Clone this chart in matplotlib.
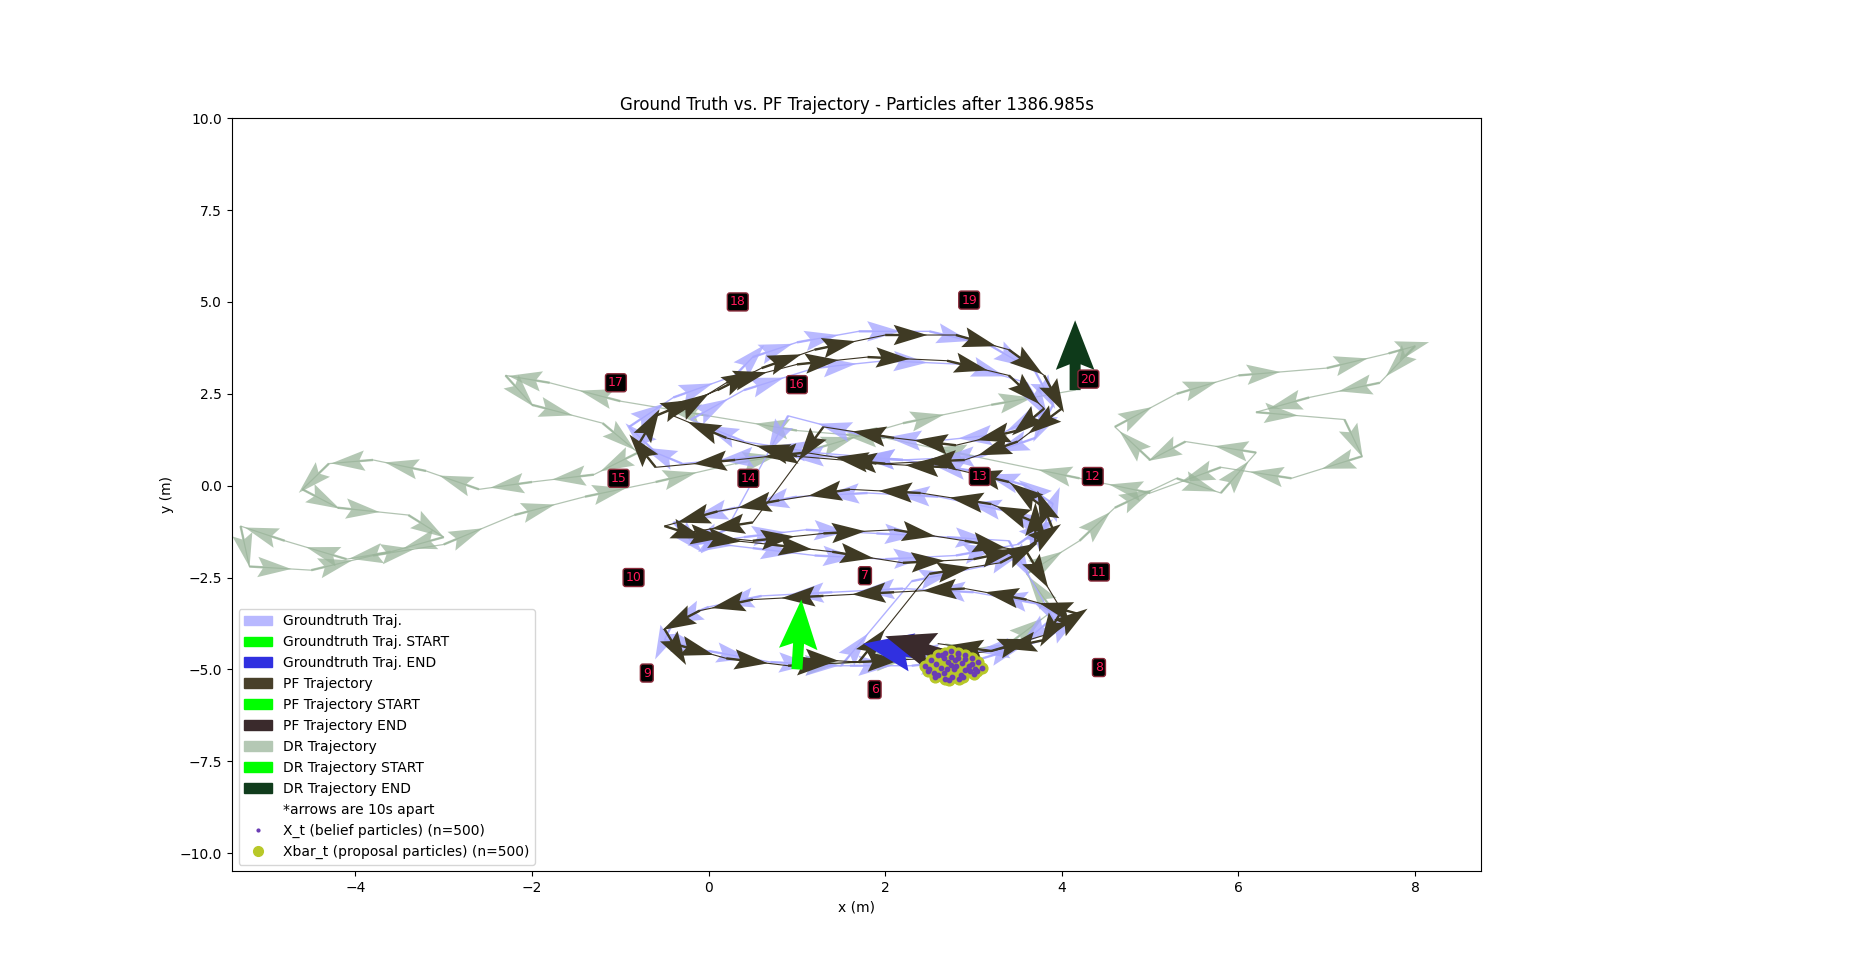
import numpy as np
import matplotlib
matplotlib.use("Agg")
import matplotlib.pyplot as plt
from matplotlib.patches import Patch
from matplotlib.lines import Line2D

# ---- data ----
gt_x = [1.0,1.6,2.3,3.1,3.8,4.1,3.7,3.0,2.2,1.4,0.6,0.0,-0.4,-0.5,0.0,0.7,1.5,2.3,3.1,3.6,3.8,3.4,2.6,1.8,1.0,0.3,-0.4,-0.2,0.5,1.2,2.0,2.8,3.5,3.8,3.9,3.6,3.0,2.2,1.4,0.6,-0.3,-0.6,-0.9,-0.4,0.3,0.5,1.0,1.7,2.5,3.2,3.7,3.9,3.7,3.1,2.2,1.2,0.4,-0.2,0.4,1.2,2.0,2.9,3.6,3.8,3.3,2.5,1.7,0.9,0.2,-0.2,0.4,1.1,1.9,2.7,3.4,3.9,3.5,2.7,2.1]
gt_y = [-4.9,-4.9,-4.9,-4.7,-4.2,-3.7,-3.2,-2.9,-2.8,-2.9,-3.0,-3.3,-3.7,-4.2,-4.5,-4.8,-4.9,-2.6,-2.2,-1.8,-1.2,-0.7,-0.3,-0.2,-0.3,-0.6,-1.0,-1.5,-1.7,-1.9,-2.0,-1.9,-1.6,-1.1,-0.5,0.0,0.4,0.7,0.8,0.8,0.6,0.9,1.6,2.4,3.0,3.5,3.9,4.2,4.2,3.8,3.1,2.2,1.3,0.8,0.7,0.9,1.2,1.8,2.6,3.2,3.4,3.3,2.8,2.0,1.4,1.2,1.4,1.9,-1.2,-1.6,-1.4,-1.2,-1.3,-1.4,-1.5,-3.6,-4.4,-4.6,-4.5]

pf_x = [1.0,1.7,2.5,3.2,3.9,4.2,3.6,2.9,2.1,1.3,0.5,-0.1,-0.5,-0.4,0.2,0.9,1.7,2.5,3.3,3.7,3.7,3.2,2.4,1.6,0.8,0.1,-0.5,-0.1,0.7,1.4,2.2,3.0,3.6,3.9,3.8,3.4,2.7,1.9,1.1,0.3,-0.6,-0.8,-0.6,0.1,0.6,1.2,2.0,2.8,3.4,3.8,4.0,3.5,2.9,2.0,1.0,0.2,-0.4,0.2,1.0,1.8,2.7,3.4,3.8,3.5,2.8,2.1,1.3,0.5,-0.3,0.5,1.3,2.1,2.9,3.6,4.0,3.8,3.2,2.6]
pf_y = [-4.7,-4.8,-4.7,-4.5,-4.0,-3.5,-3.1,-2.8,-2.9,-3.0,-3.1,-3.4,-3.9,-4.3,-4.7,-4.9,-4.8,-2.4,-2.1,-1.6,-1.0,-0.5,-0.2,-0.1,-0.4,-0.7,-1.1,-1.4,-1.6,-1.8,-2.1,-2.0,-1.7,-1.2,-0.6,0.1,0.5,0.6,0.9,0.7,0.5,1.1,1.9,2.6,3.2,3.7,4.1,4.1,3.7,3.0,2.1,1.2,0.7,0.6,0.8,1.3,1.9,2.8,3.3,3.5,3.4,3.0,2.1,1.5,1.1,1.3,1.6,-1.0,-1.3,-1.5,-1.3,-1.2,-1.5,-1.8,-3.4,-4.2,-4.5,-4.3]

dr_x = [1.0,1.8,2.6,3.4,3.9,3.6,4.2,4.6,5.3,5.8,6.2,5.4,5.0,4.6,5.3,6.0,7.0,7.7,8.0,7.6,6.8,6.2,7.2,7.4,6.6,5.8,5.0,4.2,3.0,2.0,1.0,0.0,-1.0,-1.8,-2.3,-2.0,-1.2,-0.8,-1.3,-2.0,-2.6,-3.2,-3.8,-4.3,-4.6,-4.2,-3.4,-3.0,-3.6,-4.1,-4.8,-5.3,-5.2,-4.5,-3.8,-3.0,-2.2,-1.4,-0.6,0.3,1.2,2.2,3.2,4.15]
dr_y = [-4.9,-4.8,-4.6,-4.3,-3.4,-2.4,-1.5,-0.6,0.2,-0.2,0.9,1.2,0.7,1.6,2.5,3.0,3.2,3.6,3.8,2.8,2.4,2.0,1.8,0.8,0.2,0.5,-0.2,0.2,0.8,1.3,1.5,1.9,2.3,2.8,3.0,2.2,1.7,0.9,0.3,0.1,-0.1,0.4,0.7,0.6,-0.1,-0.6,-0.8,-1.4,-1.8,-2.0,-1.5,-1.1,-2.2,-2.3,-1.9,-1.6,-0.8,-0.3,0.1,0.6,1.0,1.7,2.2,2.6]

lm_x = [0.33,2.95,-1.05,1.0,4.3,-1.02,0.45,3.07,4.35,-0.85,1.77,4.42,-0.7,4.42,1.88]
lm_y = [5.0,5.05,2.8,2.75,2.9,0.2,0.2,0.25,0.25,-2.5,-2.45,-2.35,-5.1,-4.95,-5.55]
lm_id = ["18","19","17","16","20","15","14","13","12","10","7","11","9","8","6"]

part_x = [2.45,2.52,2.6,2.68,2.75,2.82,2.9,2.98,3.05,3.1,2.5,2.58,2.66,2.74,2.82,2.9,2.98,3.04,2.55,2.63,2.71,2.79,2.87,2.95,3.02,2.48,2.6,2.7,2.8,2.9,3.0,2.56,2.66,2.76,2.86,2.96,2.64,2.74,2.84,2.94,2.72,2.82,2.78,2.68,2.88]
part_y = [-4.9,-4.75,-4.62,-4.55,-4.5,-4.58,-4.6,-4.7,-4.8,-4.95,-5.0,-4.85,-4.7,-4.65,-4.68,-4.72,-4.85,-5.05,-5.1,-4.95,-4.8,-4.75,-4.82,-4.92,-5.0,-5.05,-5.15,-5.0,-4.9,-5.02,-5.12,-5.2,-5.1,-5.22,-5.15,-5.05,-4.6,-4.88,-5.25,-4.98,-5.3,-4.55,-4.98,-5.25,-5.2]

# ---- figure ----
fig = plt.figure(figsize=(18.54, 9.77), dpi=100)
AX = [0.125, 0.108, 0.674, 0.771]
ax = fig.add_axes(AX)
XL = (-5.4, 8.75); YL = (-10.5, 10.0)
ax.set_xlim(*XL); ax.set_ylim(*YL)
W = AX[2]*1854; H = AX[3]*977
sx = W/(XL[1]-XL[0]); sy = H/(YL[1]-YL[0])

def arrows(xs, ys, color, alpha, L=42, w=2.4, hw=8.5, hl=14, z=3):
    xs = np.asarray(xs); ys = np.asarray(ys)
    dx = np.diff(xs)*sx; dy = np.diff(ys)*sy
    n = np.hypot(dx, dy); n[n == 0] = 1
    ax.quiver(xs[:-1], ys[:-1], dx/n*L, dy/n*L, angles='uv', scale_units='dots', scale=1,
              units='dots', width=w, headwidth=hw, headlength=hl, headaxislength=hl*0.85,
              color=color, alpha=alpha, zorder=z)

def big(x, y, tx, ty, color, z=6):
    dx = (tx-x)*sx; dy = (ty-y)*sy
    ax.quiver([x], [y], [dx], [dy], angles='uv', scale_units='dots', scale=1,
              units='dots', width=11, headwidth=3.5, headlength=4.5, headaxislength=4,
              color=color, zorder=z)

ax.plot(dr_x, dr_y, color='#9fb59f', lw=0.9, alpha=0.8, zorder=2)
arrows(dr_x, dr_y, '#9ab59a', 0.75, z=2)
ax.plot(gt_x, gt_y, color='#a8a8ff', lw=1.0, alpha=0.9, zorder=3)
arrows(gt_x, gt_y, '#a8a8ff', 0.8, z=3)
ax.plot(pf_x, pf_y, color='#3b3323', lw=0.8, zorder=4)
arrows(pf_x, pf_y, '#3f3a24', 1.0, z=4)

big(1.0, -5.0, 1.05, -3.1, '#00ff00')
big(2.45, -4.6, 1.75, -4.3, '#3030e0')
big(2.85, -4.75, 2.0, -4.1, '#3a2a2c')
big(4.15, 2.6, 4.15, 4.5, '#0e3a1a')

ax.scatter(part_x, part_y, s=60, color='#b8c828', zorder=7)
ax.scatter(part_x, part_y, s=10, color='#6a3cb4', zorder=8)

for x, y, t in zip(lm_x, lm_y, lm_id):
    ax.text(x, y, t, ha='center', va='center', fontsize=9, color='#ff1a5a', zorder=9,
            bbox=dict(boxstyle='round,pad=0.2', fc='black', ec='#8a2a3a', lw=1))

ax.set_xticks([-4, -2, 0, 2, 4, 6, 8])
ax.set_yticks([-10, -7.5, -5, -2.5, 0, 2.5, 5, 7.5, 10])
ax.set_xlabel('x (m)'); ax.set_ylabel('y (m)')
ax.set_title('Ground Truth vs. PF Trajectory - Particles after 1386.985s', fontsize=12)

handles = [Patch(color='#b8b8ff', label='Groundtruth Traj.'),
           Patch(color='#00ff00', label='Groundtruth Traj. START'),
           Patch(color='#3030e0', label='Groundtruth Traj. END'),
           Patch(color='#48402a', label='PF Trajectory'),
           Patch(color='#00ff00', label='PF Trajectory START'),
           Patch(color='#3a2a2c', label='PF Trajectory END'),
           Patch(color='#b4c8b4', label='DR Trajectory'),
           Patch(color='#00ff00', label='DR Trajectory START'),
           Patch(color='#103c1c', label='DR Trajectory END'),
           Patch(color='none', label='*arrows are 10s apart'),
           Line2D([], [], ls='none', marker='o', ms=2, color='#6a3cb4', label='X_t (belief particles) (n=500)'),
           Line2D([], [], ls='none', marker='o', ms=7, color='#b8c828', label='Xbar_t (proposal particles) (n=500)')]
ax.legend(handles=handles, loc='lower left', fontsize=10)
fig.savefig('out.png', dpi=100)
